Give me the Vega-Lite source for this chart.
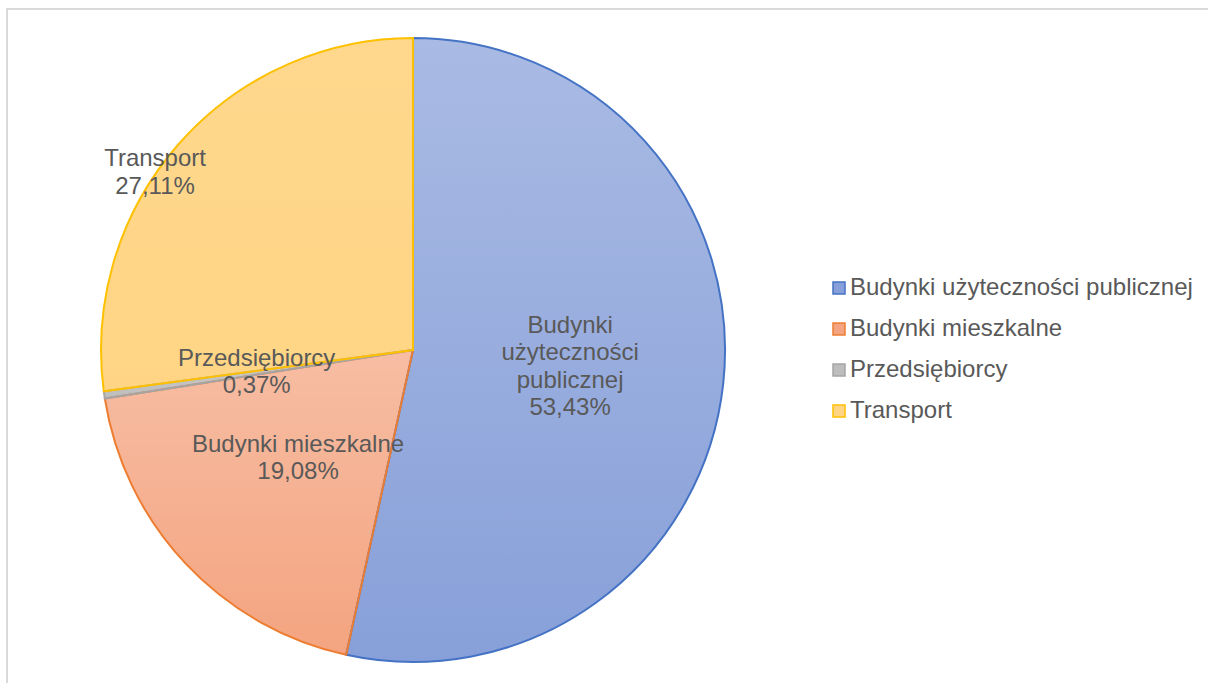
{
  "$schema": "https://vega.github.io/schema/vega-lite/v6.json",
  "width": 1202,
  "height": 675,
  "autosize": {"type": "none"},
  "padding": {"left": 7, "top": 9, "right": -1, "bottom": -1},
  "background": "white",
  "view": {"stroke": "#d9d9d9", "strokeWidth": 2},
  "config": {
    "view": {"stroke": "#d9d9d9", "strokeWidth": 2},
    "font": "Liberation Sans"
  },
  "data": {
    "values": [
      {"n": 1, "cat": "Budynki użyteczności publicznej", "label": "Budynki\nużyteczności\npublicznej", "value": 53.43},
      {"n": 2, "cat": "Budynki mieszkalne", "label": "Budynki mieszkalne", "value": 19.08},
      {"n": 3, "cat": "Przedsiębiorcy", "label": "Przedsiębiorcy", "value": 0.37},
      {"n": 4, "cat": "Transport", "label": "Transport", "value": 27.11}
    ]
  },
  "transform": [
    {"calculate": "datum.label + '\\n' + replace(format(datum.value, '.2f'), '.', ',') + '%'", "as": "txt"}
  ],
  "encoding": {
    "theta": {"field": "value", "type": "quantitative", "stack": true},
    "order": {"field": "n", "type": "quantitative"}
  },
  "layer": [
    {
      "mark": {
        "type": "arc",
        "radius": 312,
        "strokeWidth": 0,
        "x": {"expr": "width * 0.3378"},
        "y": {"expr": "height * 0.5052"}
      },
      "encoding": {
        "color": {
          "field": "cat",
          "type": "nominal",
          "sort": ["Budynki użyteczności publicznej", "Budynki mieszkalne", "Przedsiębiorcy", "Transport"],
          "scale": {
            "domain": ["Budynki użyteczności publicznej", "Budynki mieszkalne", "Przedsiębiorcy", "Transport"],
            "range": ["#88a0d9", "#f4a480", "#bdbdbd", "#ffd585"]
          },
          "legend": {
            "title": null,
            "orient": "none",
            "legendX": 820,
            "legendY": 267,
            "padding": 0,
            "symbolType": "square",
            "symbolSize": 144,
            "symbolStrokeWidth": 1.5,
            "labelFontSize": 24,
            "labelFont": "Liberation Sans",
            "labelColor": "#595959",
            "labelOffset": -1,
            "labelLimit": 600,
            "rowPadding": 17
          }
        }
      }
    },
    {
      "mark": {
        "type": "arc",
        "radius": 312,
        "strokeWidth": 0,
        "fill": {
          "gradient": "linear", "x1": 0, "y1": 0, "x2": 0, "y2": 1,
          "stops": [{"offset": 0, "color": "rgba(255,255,255,0.28)"}, {"offset": 1, "color": "rgba(255,255,255,0)"}]
        },
        "x": {"expr": "width * 0.3378"},
        "y": {"expr": "height * 0.5052"}
      },
      "encoding": {
        "detail": {"field": "cat", "type": "nominal"},
        "opacity": {"condition": {"test": "datum.cat === 'Transport'", "value": 0.25}, "value": 1}
      }
    },
    {
      "mark": {
        "type": "arc",
        "radius": 312,
        "filled": false,
        "strokeWidth": 2,
        "x": {"expr": "width * 0.3378"},
        "y": {"expr": "height * 0.5052"}
      },
      "encoding": {
        "stroke": {
          "field": "cat",
          "type": "nominal",
          "sort": ["Budynki użyteczności publicznej", "Budynki mieszkalne", "Przedsiębiorcy", "Transport"],
          "scale": {
            "domain": ["Budynki użyteczności publicznej", "Budynki mieszkalne", "Przedsiębiorcy", "Transport"],
            "range": ["#4472c4", "#ed7d31", "#a5a5a5", "#ffc000"]
          },
          "legend": {
            "title": null,
            "orient": "none",
            "legendX": 820,
            "legendY": 267,
            "padding": 0,
            "symbolType": "square",
            "symbolSize": 144,
            "symbolStrokeWidth": 1.5,
            "labelFontSize": 24,
            "labelFont": "Liberation Sans",
            "labelColor": "#595959",
            "labelOffset": -1,
            "labelLimit": 600,
            "rowPadding": 17
          }
        }
      }
    },
    {
      "mark": {
        "type": "text",
        "radius": 158,
        "fontSize": 24,
        "lineHeight": 27.5,
        "lineBreak": "\n",
        "color": "#595959",
        "font": "Liberation Sans",
        "dy": {"expr": "-(length(split(datum.txt, '\\n')) - 1) * 13.75"},
        "x": {"expr": "width * 0.3378"},
        "y": {"expr": "height * 0.5052"}
      },
      "encoding": {
        "detail": {"field": "cat", "type": "nominal"},
        "text": {"condition": {"test": "datum.cat === 'Transport'", "value": ""}, "field": "txt", "type": "nominal"}
      }
    },
    {
      "mark": {
        "type": "text",
        "radius": 313,
        "thetaOffset": -0.117,
        "fontSize": 24,
        "lineHeight": 27.5,
        "lineBreak": "\n",
        "color": "#595959",
        "font": "Liberation Sans",
        "dy": -13.75,
        "x": {"expr": "width * 0.3378"},
        "y": {"expr": "height * 0.5052"}
      },
      "encoding": {
        "detail": {"field": "cat", "type": "nominal"},
        "text": {"condition": {"test": "datum.cat !== 'Transport'", "value": ""}, "field": "txt", "type": "nominal"}
      }
    }
  ]
}
